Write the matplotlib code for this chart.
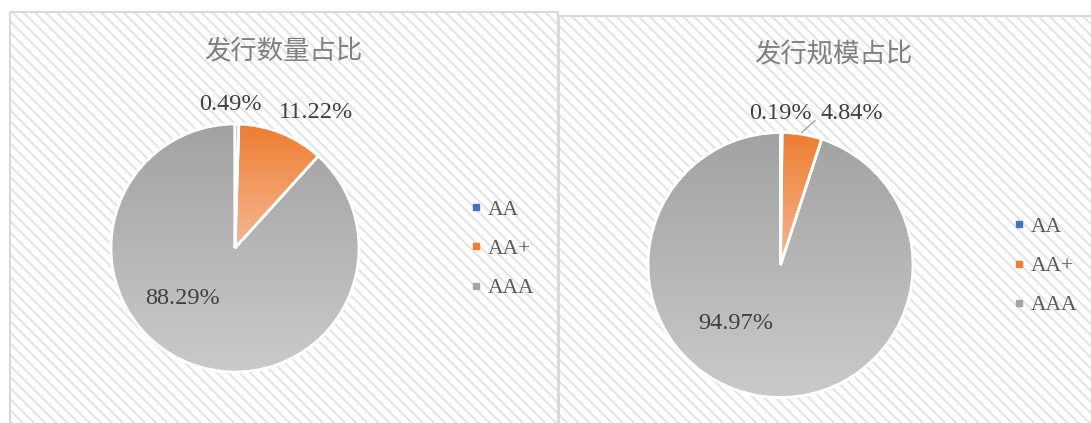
import numpy as np
import matplotlib
matplotlib.use("Agg")
import matplotlib.pyplot as plt
from matplotlib.patches import Rectangle
from matplotlib.lines import Line2D
from matplotlib.colors import to_rgb

# ---------------- data ----------------
categories = ["AA", "AA+", "AAA"]
count_share = [0.49, 11.22, 88.29]      # 发行数量占比 (%)
scale_share = [0.19, 4.84, 94.97]       # 发行规模占比 (%)
titles = ["发行数量占比", "发行规模占比"]

base_colors = ["#4472C4", "#ED7D31", "#A5A5A5"]
grad_top = ["#4472C4", "#ED7D31", "#A2A2A2"]
grad_bot = ["#9DB4E0", "#F6B894", "#CACACA"]

W, H = 1091, 423
plt.rcParams["hatch.linewidth"] = 1.5
fig = plt.figure(figsize=(W / 100, H / 100), dpi=100)
fig.patch.set_facecolor("white")

# ---------------- background panels ----------------
bg = fig.add_axes([0, 0, 1, 1], zorder=0)
bg.set_xlim(0, W)
bg.set_ylim(H, 0)
bg.axis("off")
panels = [(9.5, 12.5, 557.5), (558.5, 16.0, 1100)]
for x0, y0, x1 in panels:
    bg.add_patch(Rectangle((x0, y0), x1 - x0, H + 20 - y0, facecolor="white",
                           edgecolor="#E4E4E4", hatch="\\\\\\", lw=0))
    bg.add_patch(Rectangle((x0, y0), x1 - x0, H + 20 - y0, facecolor="none",
                           edgecolor="#D9D9D9", lw=1.5))


def pie_axes(cx, cy, r):
    ax = fig.add_axes([(cx - r) / W, (H - cy - r) / H, 2 * r / W, 2 * r / H], zorder=2)
    return ax


def draw_pie(ax, values):
    wedges, _ = ax.pie(values, startangle=90, counterclock=False, colors=base_colors,
                       wedgeprops=dict(edgecolor="white", linewidth=2.0))
    for w, ct, cb in zip(wedges, grad_top, grad_bot):
        ext = w.get_path().get_extents()
        t = np.linspace(0, 1, 256)[:, None]
        c0, c1 = np.array(to_rgb(ct)), np.array(to_rgb(cb))
        img = (c0[None, None, :] * (1 - t[..., None]) + c1[None, None, :] * t[..., None])
        im = ax.imshow(img, extent=[ext.x0, ext.x1, ext.y0, ext.y1], origin="upper",
                       aspect="auto", interpolation="bilinear", zorder=0.5)
        im.set_clip_path(w)
        w.set_facecolor("none")
        w.set_zorder(1)
    ax.set_xlim(-1, 1)
    ax.set_ylim(-1, 1)
    ax.axis("off")
    ax.patch.set_visible(False)
    return wedges


label_kw = dict(fontsize=17.5, family="Liberation Serif", color="#404040",
                ha="center", va="center", clip_on=False)

# ---------------- left pie ----------------
axL = pie_axes(235, 248, 124)
draw_pie(axL, count_share)
posL = [(-0.04, 1.16), (0.65, 1.09), (-0.42, -0.41)]
for (x, y), v in zip(posL, count_share):
    axL.text(x, y, f"{v:.2f}%", **label_kw)

# ---------------- right pie ----------------
axR = pie_axes(780.5, 265, 132.5)
draw_pie(axR, scale_share)
posR = [(0.0, 1.145), (0.54, 1.145), (-0.34, -0.44)]
for (x, y), v in zip(posR, scale_share):
    axR.text(x, y, f"{v:.2f}%", **label_kw)
axR.plot([0.26, 0.16], [1.09, 1.0], color="#A6A6A6", lw=1, clip_on=False)

# ---------------- titles ----------------
title_kw = dict(fontsize=19, family=["Noto Sans CJK SC", "DejaVu Sans"],
                color="#808080", ha="center", va="center")
fig.text(283 / W, 1 - 52 / H, titles[0], **title_kw)
fig.text(833 / W, 1 - 55 / H, titles[1], **title_kw)

# ---------------- legends ----------------
handles = [Line2D([], [], marker="s", linestyle="none", markersize=4.5,
                  markerfacecolor=c, markeredgecolor=c) for c in base_colors]
for (lx, ly) in [(471, 249), (1014, 266)]:
    fig.legend(handles, categories, loc="center left",
               bbox_to_anchor=(lx / W, 1 - ly / H), frameon=False,
               borderpad=0, handlelength=0.5, handletextpad=0.3,
               labelspacing=0.88, borderaxespad=0,
               prop=dict(family="Liberation Serif", size=15.5), labelcolor="#595959")

fig.savefig("out.png", dpi=100, facecolor="white")
